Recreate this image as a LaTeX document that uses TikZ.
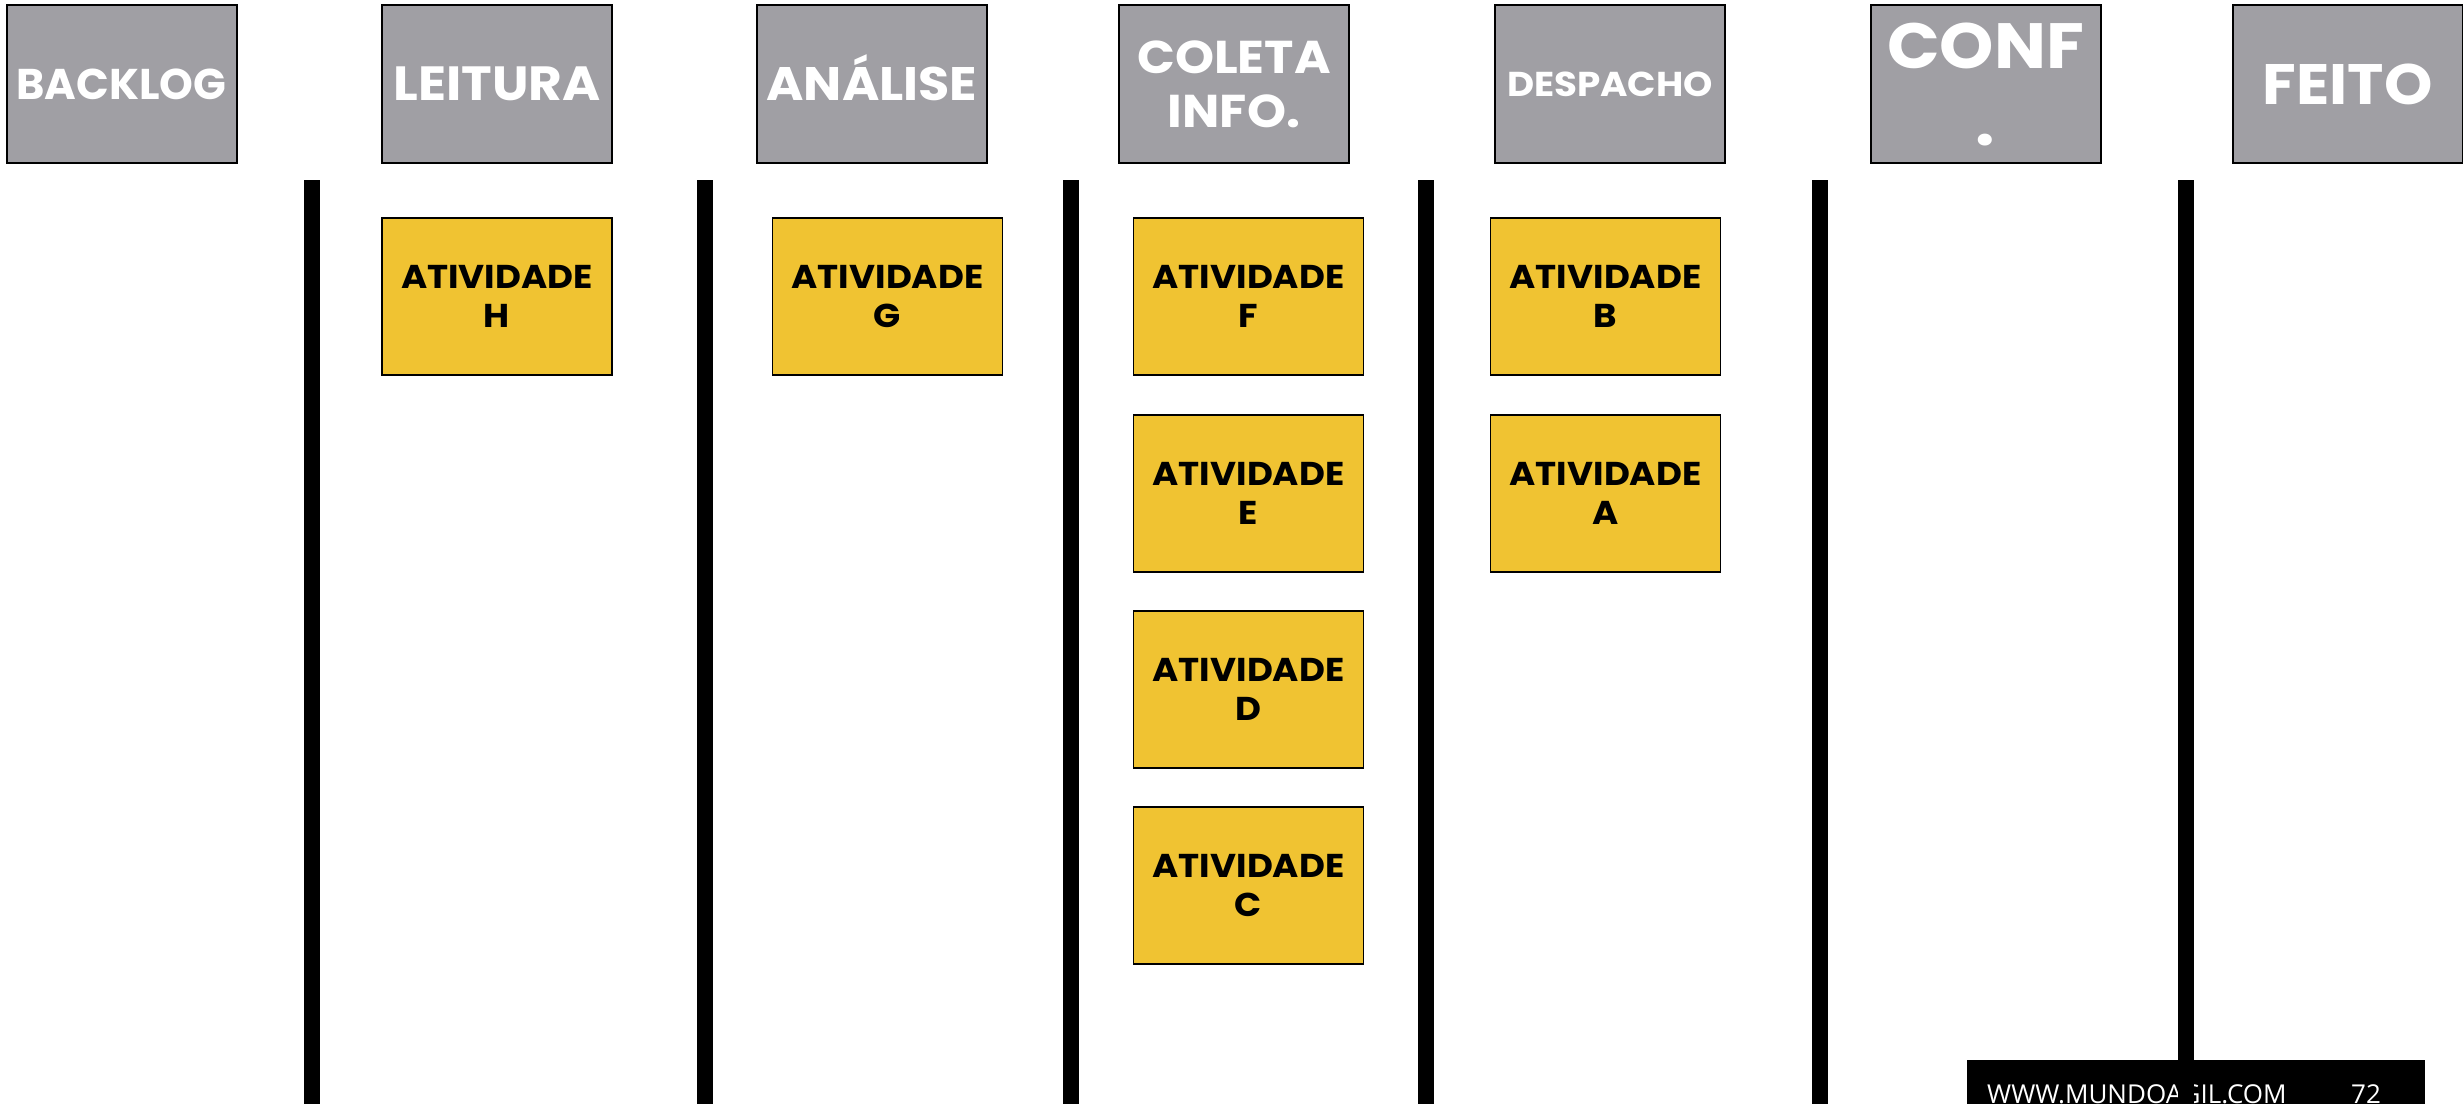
\documentclass[tikz,border=0pt]{standalone}
\usepackage{fontspec}
\newfontfamily\mont{Poppins}[FakeStretch=1.08]
\newfontfamily\montn{Poppins}
\newfontfamily\opensans{Open Sans}
\definecolor{hdr}{RGB}{160,159,164}
\definecolor{cardfill}{RGB}{240,195,50}
\newcommand\hdrfont[2]{\mont\bfseries\fontsize{#1}{#2}\selectfont}
\begin{document}
\begin{tikzpicture}[x=1pt,y=-1pt,
  hdrbox/.style={draw=black,line width=2pt,fill=hdr,minimum width=230pt,minimum height=158pt,inner sep=0pt,text=white,align=center},
  cardbox/.style={draw=black,line width=1.5pt,fill=cardfill,minimum width=230pt,minimum height=157pt,inner sep=0pt,align=center,font=\hdrfont{33}{39}},
  sepbar/.style={line width=16pt},
  foottext/.style={text=white,font=\opensans\fontsize{26}{30}\selectfont,anchor=base west,inner sep=0pt}
]
\useasboundingbox (0,0) rectangle (2463,1103);
% headers
\node[hdrbox,font=\montn\bfseries\fontsize{43}{50}\selectfont] (backlog) at (121.5,84) {BACKLOG};
\node[hdrbox,font=\hdrfont{48}{56}] (leitura) at (497,84) {LEITURA};
\node[hdrbox,font=\hdrfont{47}{54},text height=32pt,text depth=0pt] (analise) at (872,84) {ANÁLISE};
\node[hdrbox,font=\hdrfont{46}{54}] (coleta) at (1234,84) {COLETA\\INFO.};
\node[hdrbox,font=\hdrfont{34.5}{40}] (despacho) at (1610,84) {DESPACHO};
\node[hdrbox,font=\hdrfont{64}{77}] (conf) at (1985.5,84) {CONF\\.};
\node[hdrbox,font=\hdrfont{57}{66}] (feito) at (2347.5,84) {FEITO};
% cards
\node[cardbox] (h) at (497,296.5) {ATIVIDADE\\H};
\node[cardbox] (g) at (887.5,296.5) {ATIVIDADE\\G};
\node[cardbox] (f) at (1248.5,296.5) {ATIVIDADE\\F};
\node[cardbox] (e) at (1248.5,493.5) {ATIVIDADE\\E};
\node[cardbox] (d) at (1248.5,689.5) {ATIVIDADE\\D};
\node[cardbox] (c) at (1248.5,885.5) {ATIVIDADE\\C};
\node[cardbox] (b) at (1605.5,296.5) {ATIVIDADE\\B};
\node[cardbox] (a) at (1605.5,493.5) {ATIVIDADE\\A};
% footer
\fill[black] (1967,1060) rectangle (2425,1120);
\node[foottext] (site) at (1987,1103) {WWW.MUNDOAGIL.COM};
\node[foottext] (page) at (2351,1103) {72};
% separators
\foreach \bx in {312,704.5,1070.5,1425.5,1820,2186}
  \draw[sepbar] (\bx,180) -- (\bx,1120);
\end{tikzpicture}
\end{document}
